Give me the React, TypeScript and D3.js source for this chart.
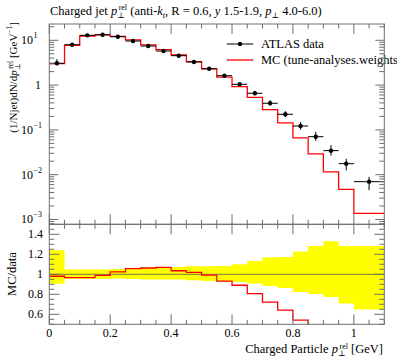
import React from "react";
import * as d3 from "d3";

const binEdges = [0, 0.05, 0.1, 0.15, 0.2, 0.25, 0.3, 0.35, 0.4, 0.45, 0.5, 0.55, 0.6, 0.65, 0.7, 0.75, 0.8, 0.85, 0.9, 0.95, 1.0, 1.1];
const dataValues = [3.07, 7.97, 12.9, 13.3, 12.0, 9.64, 7.46, 5.77, 4.53, 3.28, 2.32, 1.62, 1.04, 0.656, 0.393, 0.223, 0.122, 0.0705, 0.0344, 0.0176, 0.00698];
const mcValues = [3.01, 7.71, 12.47, 13.17, 12.28, 10.19, 7.93, 6.17, 4.69, 3.34, 2.3, 1.51, 0.926, 0.529, 0.284, 0.143, 0.066, 0.029, 0.0115, 0.0047, 0.00137];
const relErrUp = [0.24, 0.047, 0.047, 0.047, 0.053, 0.063, 0.073, 0.073, 0.073, 0.08, 0.08, 0.083, 0.1, 0.133, 0.167, 0.173, 0.227, 0.283, 0.33, 0.283, 0.283];
const relErrDown = [0.094, 0.044, 0.044, 0.044, 0.043, 0.047, 0.053, 0.053, 0.053, 0.06, 0.067, 0.07, 0.077, 0.093, 0.117, 0.137, 0.177, 0.197, 0.227, 0.293, 0.353];

const xTickLabels = ["0", "0.2", "0.4", "0.6", "0.8", "1"];
const xMajorTicks = [0, 0.2, 0.4, 0.6, 0.8, 1.0];
const yMainMajor = [10, 1, 0.1, 0.01, 0.001];
const yMainExp = ["1", "", "−1", "−2", "−3"];
const ratioTicks = [0.6, 0.8, 1.0, 1.2, 1.4];
const ratioTickLabels = ["0.6", "0.8", "1", "1.2", "1.4"];

const W = 397, H = 358;
const L = 49.3, R = 384.3, T = 24, MB = 224.3, RB = 324.3;
const FONT = "'Liberation Serif', 'DejaVu Serif', serif";
const AX = "#6e6e6e";

export default function App() {
  const x = d3.scaleLinear().domain([0, 1.1]).range([L, R]);
  const y = d3.scaleLog().domain([7.8e-4, 23.1]).range([MB, T]);
  const yr = d3.scaleLinear().domain([0.5, 1.5]).range([RB, MB]);

  const n = dataValues.length;
  const stepPts = (vals: number[]) => {
    const pts: [number, number][] = vals.map((v, i) => [binEdges[i], v]);
    pts.push([binEdges[n], vals[n - 1]]);
    return pts;
  };
  const mainLine = d3.line<[number, number]>().x(d => x(d[0])).y(d => y(d[1])).curve(d3.curveStepAfter);
  const ratioLine = d3.line<[number, number]>().x(d => x(d[0])).y(d => yr(d[1])).curve(d3.curveStepAfter);
  const ratioVals = mcValues.map((v, i) => v / dataValues[i]);

  const bandArea = d3.area<[number, number, number]>()
    .x(d => x(d[0])).y0(d => yr(d[2])).y1(d => yr(d[1])).curve(d3.curveStepAfter);
  const bandPts: [number, number, number][] = relErrUp.map((u, i) => [binEdges[i], 1 + u, 1 - relErrDown[i]]);
  bandPts.push([binEdges[n], 1 + relErrUp[n - 1], 1 - relErrDown[n - 1]]);

  const minorX = d3.range(0, 1.1001, 0.05);
  const minorMain: number[] = [];
  for (let e = -4; e <= 1; e++) for (let k = 1; k <= 9; k++) {
    const v = k * Math.pow(10, e);
    if (v >= 7.8e-4 && v <= 23.1) minorMain.push(v);
  }
  const minorRatio = d3.range(0.5, 1.5001, 0.05);

  const isMajorX = (v: number) => xMajorTicks.some(m => Math.abs(m - v) < 1e-6);
  const isMajorR = (v: number) => ratioTicks.some(m => Math.abs(m - v) < 1e-6);
  const isMajorY = (v: number) => yMainMajor.some(m => Math.abs(m - v) / m < 1e-6);

  return (
    <div style={{ position: "absolute", left: 0, top: 0 }}>
      <svg width={W} height={H} style={{ display: "block", fontFamily: FONT }}>
        <defs>
          <clipPath id="clipMain"><rect x={L} y={T} width={R - L} height={MB - T} /></clipPath>
          <clipPath id="clipRatio"><rect x={L} y={MB} width={R - L} height={RB - MB} /></clipPath>
        </defs>
        <rect width={W} height={H} fill="#fff" />

        {/* Title */}
        <text x={50} y={15} fontSize={12.5} fill="#000">
          Charged jet <tspan fontStyle="italic">p</tspan>
          <tspan fontSize={8} dy={3}>⊥</tspan>
          <tspan fontSize={8} dx={-6} dy={-8}>rel</tspan>
          <tspan dy={5}> (anti-</tspan><tspan fontStyle="italic">k</tspan>
          <tspan fontSize={8} fontStyle="italic" dy={3}>t</tspan>
          <tspan dy={-3}>, R = 0.6, </tspan><tspan fontStyle="italic">y</tspan>
          <tspan> 1.5-1.9, </tspan><tspan fontStyle="italic">p</tspan>
          <tspan fontSize={8} dy={3}>⊥</tspan>
          <tspan dy={-3}> 4.0-6.0)</tspan>
        </text>

        {/* Main panel content */}
        <g clipPath="url(#clipMain)">
          <path d={mainLine(stepPts(mcValues)) || ""} fill="none" stroke="#ff0000" strokeWidth={1.3} />
          {dataValues.map((v, i) => {
            const cx = x((binEdges[i] + binEdges[i + 1]) / 2);
            return (
              <g key={i}>
                <line x1={x(binEdges[i])} x2={x(binEdges[i + 1])} y1={y(v)} y2={y(v)} stroke="#000" strokeWidth={1} />
                <line x1={cx} x2={cx} y1={y(v * (1 + relErrUp[i]))} y2={y(v * (1 - relErrDown[i]))} stroke="#000" strokeWidth={1} />
                <circle cx={cx} cy={y(v)} r={2.2} fill="#000" />
              </g>
            );
          })}
        </g>

        {/* Legend */}
        <line x1={226.7} x2={253.3} y1={44} y2={44} stroke="#000" strokeWidth={1} />
        <circle cx={240} cy={44} r={2.2} fill="#000" />
        <text x={261} y={48} fontSize={12.5} fill="#000">ATLAS data</text>
        <line x1={226.7} x2={253.3} y1={60} y2={60} stroke="#ff0000" strokeWidth={1.3} />
        <text x={261} y={64} fontSize={12.5} fill="#000">MC (tune-analyses.weights)</text>

        {/* Ratio panel content */}
        <g clipPath="url(#clipRatio)">
          <path d={bandArea(bandPts) || ""} fill="#ffff00" stroke="none" />
          <line x1={L} x2={R} y1={yr(1)} y2={yr(1)} stroke="#555" strokeWidth={0.8} />
          <path d={ratioLine(stepPts(ratioVals)) || ""} fill="none" stroke="#ff0000" strokeWidth={1.3} />
        </g>

        {/* Frames */}
        <rect x={L} y={T} width={R - L} height={MB - T} fill="none" stroke={AX} strokeWidth={1} />
        <rect x={L} y={MB} width={R - L} height={RB - MB} fill="none" stroke={AX} strokeWidth={1} />

        {/* X ticks */}
        {minorX.map((v, i) => {
          const len = isMajorX(v) ? 10 : 4.5;
          const xx = x(v);
          return (
            <g key={"xt" + i} stroke={AX} strokeWidth={1}>
              <line x1={xx} x2={xx} y1={T} y2={T + len} />
              <line x1={xx} x2={xx} y1={MB} y2={MB - len} />
              <line x1={xx} x2={xx} y1={MB} y2={MB + len} />
              <line x1={xx} x2={xx} y1={RB} y2={RB - len} />
            </g>
          );
        })}
        {xMajorTicks.map((v, i) => (
          <text key={"xl" + i} x={x(v)} y={337} fontSize={12} textAnchor="middle" fill="#000">{xTickLabels[i]}</text>
        ))}
        <text x={383} y={353} fontSize={12.5} textAnchor="end" fill="#000">
          Charged Particle <tspan fontStyle="italic">p</tspan>
          <tspan fontSize={8} dy={2.5}>⊥</tspan>
          <tspan fontSize={8} dx={-6} dy={-6.5}>rel</tspan>
          <tspan dy={4}> [GeV]</tspan>
        </text>

        {/* Main Y ticks */}
        {minorMain.map((v, i) => {
          const len = isMajorY(v) ? 9 : 5;
          const yy = y(v);
          return (
            <g key={"yt" + i} stroke={AX} strokeWidth={1}>
              <line x1={L} x2={L + len} y1={yy} y2={yy} />
              <line x1={R} x2={R - len} y1={yy} y2={yy} />
            </g>
          );
        })}
        {yMainMajor.map((v, i) => (
          <text key={"yl" + i} x={yMainExp[i] ? 33 : 41} y={y(v) + 4} fontSize={12} textAnchor="end" fill="#000">
            {yMainExp[i] ? "10" : "1"}
          </text>
        ))}
        {yMainMajor.map((v, i) => yMainExp[i] ? (
          <text key={"ye" + i} x={33.5} y={y(v) - 2} fontSize={8} textAnchor="start" fill="#000">{yMainExp[i]}</text>
        ) : null)}

        {/* Ratio Y ticks */}
        {minorRatio.map((v, i) => {
          const len = isMajorR(v) ? 10 : 5;
          const yy = yr(v);
          return (
            <g key={"rt" + i} stroke={AX} strokeWidth={1}>
              <line x1={L} x2={L + len} y1={yy} y2={yy} />
              <line x1={R} x2={R - len} y1={yy} y2={yy} />
            </g>
          );
        })}
        {ratioTicks.map((v, i) => (
          <text key={"rl" + i} x={43} y={yr(v) + 4} fontSize={12} textAnchor="end" fill="#000">{ratioTickLabels[i]}</text>
        ))}

        {/* Axis labels */}
        <text transform="translate(17,22) rotate(-90)" fontSize={11} textAnchor="end" fill="#000">
          (1/Njet)dN/d<tspan fontStyle="italic">p</tspan>
          <tspan fontSize={7.5} dy={3}>⊥</tspan>
          <tspan fontSize={7.5} dx={-5.5} dy={-7}>rel</tspan>
          <tspan dy={4}> [GeV</tspan>
          <tspan fontSize={7.5} dy={-5}>−1</tspan>
          <tspan dy={5}>]</tspan>
        </text>
        <text transform="translate(15.5,274) rotate(-90)" fontSize={12.5} textAnchor="middle" fill="#000">MC/data</text>
      </svg>
    </div>
  );
}
